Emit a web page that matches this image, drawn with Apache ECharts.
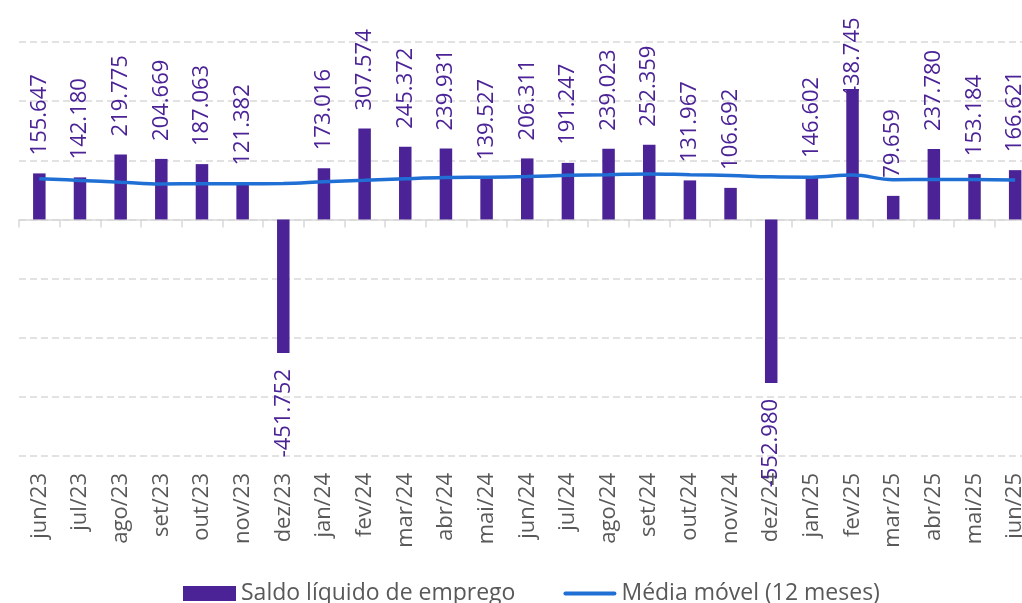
<!DOCTYPE html>
<html>
<head>
<meta charset="utf-8">
<script src="https://cdn.jsdelivr.net/npm/echarts@6/dist/echarts.min.js"></script>
<style>
  html, body { margin: 0; padding: 0; background: #fff; }
  #chart { width: 1022px; height: 603px; }
</style>
</head>
<body>
<div id="chart"></div>
<script>
// monthly net job creation (Caged) and its 12-month moving average
const months = [
  'jun/23', 'jul/23', 'ago/23', 'set/23', 'out/23', 'nov/23', 'dez/23',
  'jan/24', 'fev/24', 'mar/24', 'abr/24', 'mai/24', 'jun/24', 'jul/24',
  'ago/24', 'set/24', 'out/24', 'nov/24', 'dez/24', 'jan/25', 'fev/25',
  'mar/25', 'abr/25', 'mai/25', 'jun/25',
]
const saldo = [
  155647, 142180, 219775, 204669, 187063, 121382, -451752,
  173016, 307574, 245372, 239931, 139527, 206311, 191247,
  239023, 252359, 131967, 106692, -552980, 146602, 438745,
  79659, 237780, 153184, 166621,
]
const mediaMovel = [
  137500, 132000, 126000, 120000, 121000, 121000, 121500,
  127500, 132500, 137500, 141500, 143000, 145000, 149000,
  151500, 154000, 151000, 148500, 144000, 143000, 150000,
  134500, 135000, 135000, 133000,
]

const purple = '#4b2397'
const blue = '#1f6fd4'
const grey = '#595959'
const gridGrey = '#d9d9d9'
const fontFamily = '"Open Sans", "Noto Sans", sans-serif'

const fmt = (v) => v.toLocaleString('pt-BR')

const chart = echarts.init(document.getElementById('chart'), null, { renderer: 'canvas' })

chart.setOption({
  animation: false,
  textStyle: { fontFamily },
  grid: { left: 19, top: 42, width: 1016.5, height: 414, outerBoundsMode: 'none', containLabel: false },
  legend: {
    left: 178,
    top: 577,
    itemWidth: 53,
    itemHeight: 15,
    itemGap: 48,
    textStyle: { color: grey, fontSize: 23, fontFamily },
    data: [
      { name: 'Saldo líquido de emprego', icon: 'rect' },
      { name: 'Média móvel (12 meses)', icon: 'path://M2,0H52A2,2 0 0 1 52,4H2A2,2 0 0 1 2,0Z' },
    ],
  },
  xAxis: [
    {
      type: 'category',
      data: months,
      position: 'bottom',
      axisLine: { show: false, onZero: false },
      axisTick: { show: false },
      splitLine: { show: false },
      axisLabel: { interval: 0, rotate: 90, margin: 17, color: grey, fontSize: 22, fontFamily },
    },
    {
      type: 'category',
      data: months,
      position: 'bottom',
      axisLine: { show: true, onZero: true, lineStyle: { color: gridGrey, width: 1.5 } },
      axisTick: { show: true, interval: 0, length: 8, lineStyle: { color: gridGrey, width: 1.5 } },
      axisLabel: { show: false },
      splitLine: { show: false },
    },
  ],
  yAxis: {
    type: 'value',
    min: -800000,
    max: 600000,
    interval: 200000,
    axisLine: { show: false },
    axisTick: { show: false },
    axisLabel: { show: false },
    splitLine: { show: true, lineStyle: { color: gridGrey, width: 1.5, type: [7, 4] } },
  },
  series: [
    {
      name: 'Saldo líquido de emprego',
      type: 'bar',
      barWidth: 12.5,
      itemStyle: { color: purple },
      data: saldo.map((v) => ({
        value: v,
        label: v < 0
          ? { position: 'bottom', align: 'right', distance: 16 }
          // tallest bar: label pushed back down over the bar, like the original
          : { position: 'top', align: 'left', distance: v > 400000 ? -9 : 18 },
      })),
      label: {
        show: true,
        rotate: 90,
        verticalAlign: 'middle',
        color: purple,
        fontSize: 22,
        fontFamily,
        formatter: (p) => fmt(p.value),
      },
      z: 2,
    },
    {
      name: 'Média móvel (12 meses)',
      type: 'line',
      data: mediaMovel,
      symbol: 'none',
      smooth: 0.4,
      lineStyle: { color: blue, width: 3.5 },
      itemStyle: { color: blue },
      z: 3,
    },
  ],
})
</script>
</body>
</html>
